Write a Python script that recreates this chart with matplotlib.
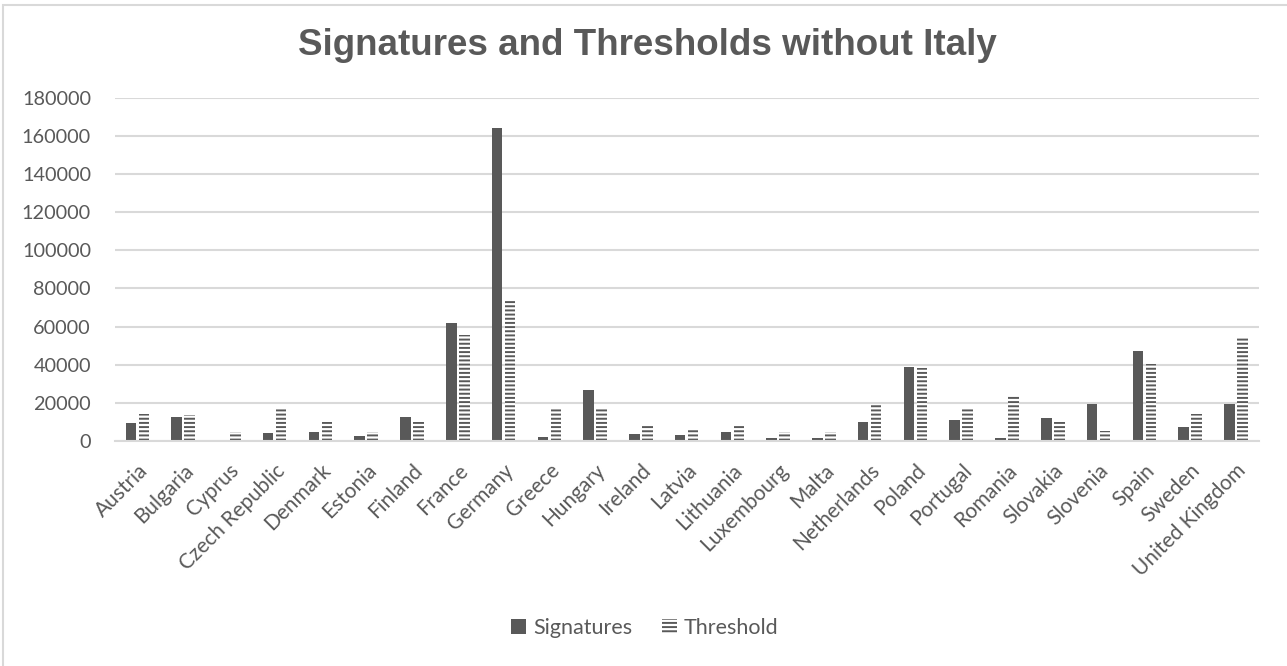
import numpy as np
import matplotlib.pyplot as plt
from matplotlib.patches import Patch, Rectangle

countries = ["Austria", "Bulgaria", "Cyprus", "Czech Republic", "Denmark", "Estonia",
             "Finland", "France", "Germany", "Greece", "Hungary", "Ireland", "Latvia",
             "Lithuania", "Luxembourg", "Malta", "Netherlands", "Poland", "Portugal",
             "Romania", "Slovakia", "Slovenia", "Spain", "Sweden", "United Kingdom"]
signatures = [9300, 12400, 400, 4000, 4600, 2500, 12400, 62000, 164200, 1900, 26800, 3400,
              3000, 4700, 1400, 1600, 9800, 38800, 10900, 1400, 11800, 19400, 47300, 7400,
              19400]
threshold = [14250, 13500, 4500, 16500, 9750, 4500, 9750, 55500, 74250, 16500, 16500, 9000,
             6000, 9000, 4500, 4500, 18750, 38250, 16500, 24000, 9750, 5400, 40500, 14250,
             54750]

dark = "#595959"
grid = "#d9d9d9"
plt.rcParams["hatch.linewidth"] = 1.4

fig = plt.figure(figsize=(12.87, 6.66), dpi=100)
ax = fig.add_axes([0.089, 0.338, 0.889, 0.515])

x = np.arange(len(countries))
w = 0.23
ax.bar(x - 0.142, signatures, w, color=dark, linewidth=0, zorder=3)
ax.bar(x + 0.142, threshold, w, color="white", edgecolor=dark, hatch="----",
       linewidth=0, zorder=3)

ax.set_xlim(-0.5, len(countries) - 0.5)
ax.set_ylim(0, 180000)
ax.set_yticks(np.arange(0, 180001, 20000))
ax.yaxis.grid(True, color=grid, linewidth=1.5, zorder=0)
for s in ["top", "right", "left"]:
    ax.spines[s].set_visible(False)
ax.spines["bottom"].set_color(grid)
ax.spines["bottom"].set_linewidth(1.5)
ax.spines["bottom"].set_zorder(4)

ax.set_xticks(x)
ax.set_xticklabels(countries, rotation=45, ha="right", rotation_mode="anchor",
                   fontsize=15, color=dark, family="Lato")
ax.tick_params(axis="x", length=0, pad=14)
ax.tick_params(axis="y", length=0, pad=17, labelsize=14.3, labelcolor=dark)
for t in ax.get_yticklabels():
    t.set_family("Lato")

fig.text(0.503, 0.932, "Signatures and Thresholds without Italy", ha="center", va="center",
         fontsize=26.5, fontweight="bold", color=dark, family="Liberation Sans")

handles = [Patch(facecolor=dark, linewidth=0),
           Patch(facecolor="white", edgecolor=dark, hatch="----", linewidth=0)]
fig.legend(handles, ["Signatures", "Threshold"], loc="center", bbox_to_anchor=(0.501, 0.057),
           ncol=2, frameon=False, handlelength=0.7, handleheight=0.7, handletextpad=0.3,
           columnspacing=1.4, prop={"family": "Lato", "size": 15.5}, labelcolor=dark)

# outer chart frame
fig.add_artist(Rectangle((2.5 / 1287, -0.01), 1.2, 1 - 5 / 666 + 0.01, transform=fig.transFigure,
                         fill=False, edgecolor=grid, linewidth=1.5))

fig.savefig("out.png", dpi=100)
